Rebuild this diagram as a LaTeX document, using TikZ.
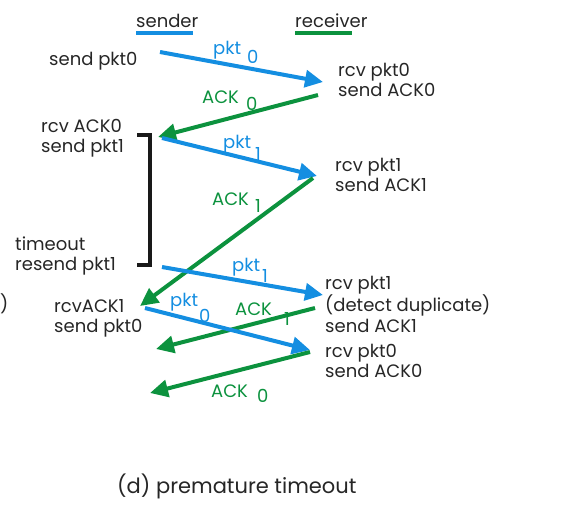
\documentclass[tikz,border=0pt]{standalone}
\usepackage{fontspec}
\setmainfont{Poppins}
\usetikzlibrary{arrows.meta}
\definecolor{pblue}{RGB}{20,142,225}
\definecolor{pgreen}{RGB}{12,146,62}
\newcommand{\twolines}[1]{\begin{tabular}[t]{@{}l@{}}#1\end{tabular}}
\begin{document}
\begin{tikzpicture}[x=1pt,y=-1pt,
  txt/.style={anchor=base west,inner sep=0pt,font=\fontsize{18}{20.5}\selectfont,text=black!85},
  lblue/.style={txt,text=pblue},
  lgreen/.style={txt,text=pgreen},
  pktarrow/.style={draw=pblue,line width=4pt,-{Triangle[length=18pt,width=17pt]}},
  ackarrow/.style={draw=pgreen,line width=4pt,-{Triangle[length=18pt,width=17pt]}},
  bracket/.style={draw=black!90,line width=3.5pt}]
\useasboundingbox (0,0) rectangle (570,515);
% headers
\node[txt] (snd) at (136,27) {sender};
\node[txt] (rcv) at (295,27) {receiver};
\draw[pblue,line width=4pt] (136,33) -- (193,33);
\draw[pgreen,line width=4pt] (295,33) -- (352,33);
% sender side texts
\node[txt] (s1) at (49,65) {send pkt0};
\node[txt] (s2) at (41,132) {\twolines{rcv ACK0\\send pkt1}};
\node[txt] (s3) at (15,250) {\twolines{timeout\\resend pkt1}};
\node[txt] (s4) at (54,312) {\twolines{rcvACK1\\send pkt0}};
\node[txt] (par) at (0,310) {)};
% receiver side texts
\node[txt] (r1) at (338,76) {\twolines{rcv pkt0\\send ACK0}};
\node[txt] (r2) at (335,171) {\twolines{rcv pkt1\\send ACK1}};
\node[txt] (r3) at (325,289) {\twolines{rcv pkt1\\(detect duplicate)\\send ACK1}};
\node[txt] (r4) at (325,357) {\twolines{rcv pkt0\\send ACK0}};
% bracket
\draw[bracket] (137,135) -- (150,135) -- (150,265) -- (137,265);
% arrow end points
\coordinate (a1s) at (160,52);  \coordinate (a1e) at (323,82);
\coordinate (a2s) at (318,95);  \coordinate (a2e) at (158,137);
\coordinate (a3s) at (162,138); \coordinate (a3e) at (317,176);
\coordinate (a4s) at (313,178); \coordinate (a4e) at (140,306);
\coordinate (a5s) at (162,267); \coordinate (a5e) at (323,295);
\coordinate (a6s) at (315,308); \coordinate (a6e) at (156,349);
\coordinate (a7s) at (145,308); \coordinate (a7e) at (310,350);
\coordinate (a8s) at (310,352); \coordinate (a8e) at (150,393);
\draw[pktarrow] (a1s) -- (a1e);
\draw[ackarrow] (a2s) -- (a2e);
\draw[pktarrow] (a3s) -- (a3e);
\draw[ackarrow] (a4s) -- (a4e);
\draw[pktarrow] (a5s) -- (a5e);
\draw[ackarrow] (a6s) -- (a6e);
\draw[pktarrow] (a7s) -- (a7e);
\draw[ackarrow] (a8s) -- (a8e);
% labels
\node[lblue] (l1) at (213,54) {pkt};   \node[lblue] (l1s) at (247,63) {0};
\node[lgreen] (l2) at (202,103) {ACK}; \node[lgreen] (l2s) at (246,110) {0};
\node[lblue] (l3) at (223,148) {pkt};  \node[lblue] (l3s) at (255,160) {1};
\node[lgreen] (l4) at (212,205) {ACK}; \node[lgreen] (l4s) at (255,212) {1};
\node[lblue] (l5) at (232,271) {pkt};  \node[lblue] (l5s) at (262,282) {1};
\node[lblue] (l7) at (170,306) {pkt};  \node[lblue] (l7s) at (199,322) {0};
\node[lgreen] (l6) at (235,315) {ACK}; \node[lgreen] (l6s) at (284,325) {1};
\node[lgreen] (l8) at (211,397) {ACK}; \node[lgreen] (l8s) at (257,402) {0};
% caption
\node[txt,font=\fontsize{21}{24}\selectfont] (cap) at (117,493) {(d) premature timeout};
\end{tikzpicture}
\end{document}
